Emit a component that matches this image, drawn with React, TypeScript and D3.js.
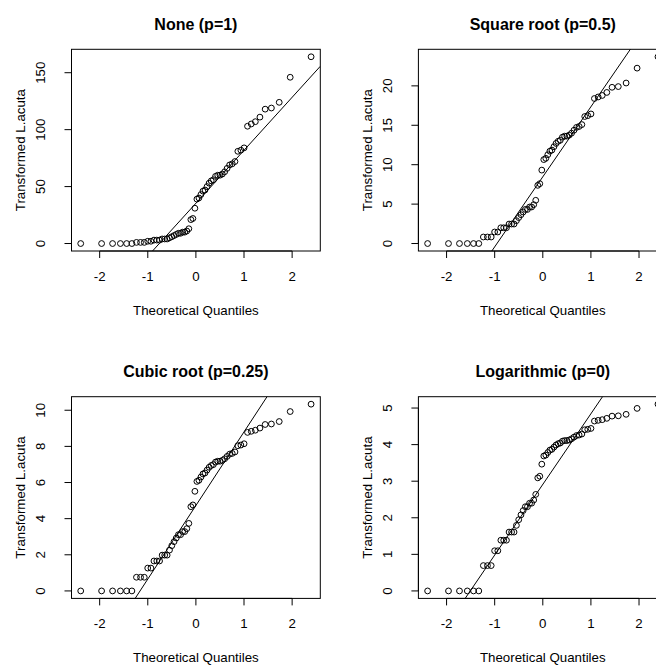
import React from "react";
import * as d3 from "d3";

const rawLacuta: number[] = [
  1, 1, 1, 1, 1, 1, 2, 2, 2, 3, 3, 4, 4, 4, 5, 5, 5, 6, 7, 8,
  9, 10, 10, 11, 11, 12, 14, 22, 23, 32, 40, 41, 44, 47, 48, 51, 54, 56, 57, 60,
  61, 61, 62, 64, 67, 70, 71, 73, 82, 83, 85, 104, 106, 108, 112, 119, 120, 125, 147, 165,
];
const panelTitles: string[] = ["None (p=1)", "Square root (p=0.5)", "Cubic root (p=0.25)", "Logarithmic (p=0)"];
const panelPowers: number[] = [1, 0.5, 0.25, 0];
const xTickValues: number[] = [-2, -1, 0, 1, 2];
const yTickValues: number[][] = [
  [0, 50, 100, 150],
  [0, 5, 10, 15, 20],
  [0, 2, 4, 6, 8, 10],
  [0, 1, 2, 3, 4, 5],
];
const xLabel = "Theoretical Quantiles";
const yLabel = "Transformed L.acuta";

// inverse normal CDF (Acklam)
function qnorm(p: number): number {
  const a = [-3.969683028665376e1, 2.209460984245205e2, -2.759285104469687e2, 1.38357751867269e2, -3.066479806614716e1, 2.506628277459239];
  const b = [-5.447609879822406e1, 1.615858368580409e2, -1.556989798598866e2, 6.680131188771972e1, -1.328068155288572e1];
  const c = [-7.784894002430293e-3, -3.223964580411365e-1, -2.400758277161838, -2.549732539343734, 4.374664141464968, 2.938163982698783];
  const d = [7.784695709041462e-3, 3.224671290700398e-1, 2.445134137142996, 3.754408661907416];
  const pl = 0.02425;
  if (p < pl) {
    const q = Math.sqrt(-2 * Math.log(p));
    return (((((c[0] * q + c[1]) * q + c[2]) * q + c[3]) * q + c[4]) * q + c[5]) / ((((d[0] * q + d[1]) * q + d[2]) * q + d[3]) * q + 1);
  }
  if (p <= 1 - pl) {
    const q = p - 0.5;
    const r = q * q;
    return ((((((a[0] * r + a[1]) * r + a[2]) * r + a[3]) * r + a[4]) * r + a[5]) * q) / (((((b[0] * r + b[1]) * r + b[2]) * r + b[3]) * r + b[4]) * r + 1);
  }
  const q = Math.sqrt(-2 * Math.log(1 - p));
  return -(((((c[0] * q + c[1]) * q + c[2]) * q + c[3]) * q + c[4]) * q + c[5]) / ((((d[0] * q + d[1]) * q + d[2]) * q + d[3]) * q + 1);
}

const boxCox = (x: number, p: number) => (p === 0 ? Math.log(x) : (Math.pow(x, p) - 1) / p);

const W = 656;
const H = 667;
const cellW = 346.9;
const cellH = 347.4;
const boxL = 71.5;
const boxR = 320.3;
const boxT = 49.3;
const boxB = 251;
const FONT = "'Liberation Sans', Arial, Helvetica, sans-serif";

const extend = (ext: [number, number]): [number, number] => {
  const r = ext[1] - ext[0];
  return [ext[0] - 0.04 * r, ext[1] + 0.04 * r];
};

function Panel({ idx }: { idx: number }) {
  const col = idx % 2;
  const row = Math.floor(idx / 2);
  const n = rawLacuta.length;
  const ys = rawLacuta.map((v) => boxCox(v, panelPowers[idx])).sort((a, b) => a - b);
  const xs = ys.map((_, i) => qnorm((i + 1 - 0.5) / n));
  const x = d3.scaleLinear().domain(extend(d3.extent(xs) as [number, number])).range([boxL, boxR]);
  const y = d3.scaleLinear().domain(extend(d3.extent(ys) as [number, number])).range([boxB, boxT]);
  // qqline through quartiles
  const yq1 = d3.quantile(ys, 0.25)!;
  const yq3 = d3.quantile(ys, 0.75)!;
  const xq1 = qnorm(0.25);
  const xq3 = qnorm(0.75);
  const slope = (yq3 - yq1) / (xq3 - xq1);
  const inter = yq1 - slope * xq1;
  const [dx0, dx1] = x.domain();
  const clipId = `clip${idx}`;
  const yt = yTickValues[idx];
  const cx = (boxL + boxR) / 2;
  const cy = (boxT + boxB) / 2;
  return (
    <g transform={`translate(${col * cellW},${row * cellH})`}>
      <defs>
        <clipPath id={clipId}>
          <rect x={boxL} y={boxT} width={boxR - boxL} height={boxB - boxT} />
        </clipPath>
      </defs>
      <text x={cx} y={30} textAnchor="middle" fontFamily={FONT} fontWeight="bold" fontSize={16}>
        {panelTitles[idx]}
      </text>
      <rect x={boxL} y={boxT} width={boxR - boxL} height={boxB - boxT} fill="none" stroke="#000" strokeWidth={1} />
      {/* x axis */}
      <line x1={x(xTickValues[0])} x2={x(xTickValues[xTickValues.length - 1])} y1={boxB} y2={boxB} stroke="#000" />
      {xTickValues.map((t) => (
        <g key={`xt${t}`}>
          <line x1={x(t)} x2={x(t)} y1={boxB} y2={boxB + 7} stroke="#000" />
          <text x={x(t)} y={281} textAnchor="middle" fontFamily={FONT} fontSize={13.3}>
            {t < 0 ? `-${Math.abs(t)}` : `${t}`}
          </text>
        </g>
      ))}
      {/* y axis */}
      <line x1={boxL} x2={boxL} y1={y(yt[0])} y2={y(yt[yt.length - 1])} stroke="#000" />
      {yt.map((t) => (
        <g key={`yt${t}`}>
          <line x1={boxL - 7} x2={boxL} y1={y(t)} y2={y(t)} stroke="#000" />
          <text
            transform={`translate(${45},${y(t)}) rotate(-90)`}
            textAnchor="middle"
            fontFamily={FONT}
            fontSize={13.3}
          >
            {t}
          </text>
        </g>
      ))}
      <text x={cx} y={315} textAnchor="middle" fontFamily={FONT} fontSize={13.3}>
        {xLabel}
      </text>
      <text transform={`translate(${25},${cy}) rotate(-90)`} textAnchor="middle" fontFamily={FONT} fontSize={13.3}>
        {yLabel}
      </text>
      <g clipPath={`url(#${clipId})`}>
        <line
          x1={x(dx0)}
          y1={y(inter + slope * dx0)}
          x2={x(dx1)}
          y2={y(inter + slope * dx1)}
          stroke="#000"
          strokeWidth={1}
        />
        {ys.map((v, i) => (
          <circle key={i} cx={x(xs[i])} cy={y(v)} r={2.9} fill="none" stroke="#000" strokeWidth={1} />
        ))}
      </g>
    </g>
  );
}

export default function App() {
  return (
    <svg
      width={W}
      height={H}
      viewBox={`0 0 ${W} ${H}`}
      style={{ position: "absolute", left: 0, top: 0, background: "#fff" }}
    >
      <rect x={0} y={0} width={W} height={H} fill="#fff" />
      {[0, 1, 2, 3].map((i) => (
        <Panel key={i} idx={i} />
      ))}
    </svg>
  );
}
